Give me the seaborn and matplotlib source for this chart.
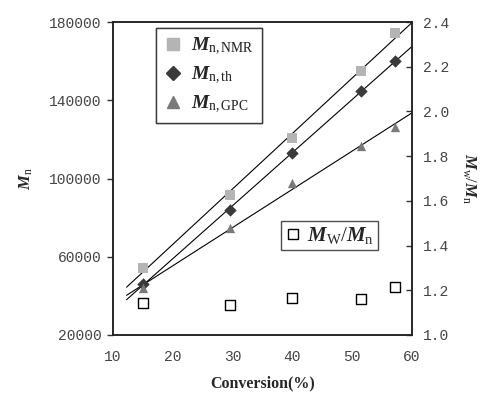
import numpy as np
import pandas as pd
import matplotlib
matplotlib.use("Agg")
import matplotlib.pyplot as plt
import seaborn as sns
from matplotlib.lines import Line2D

conversion = [15.0, 29.5, 40.0, 51.5, 57.2]
mn_nmr = [54200, 91500, 120800, 155000, 174200]
mn_th = [46000, 84000, 112800, 144700, 160200]
mn_gpc = [44000, 74500, 97500, 116600, 126400]
pdi = [1.142, 1.134, 1.167, 1.160, 1.213]

sns.set_style("white")
plt.rcParams.update({
    "font.family": ["Liberation Serif", "DejaVu Serif"],
    "mathtext.fontset": "custom",
    "mathtext.rm": "Liberation Serif",
    "mathtext.it": "Liberation Serif:italic",
    "mathtext.bf": "Liberation Serif:bold",
    "mathtext.bfit": "Liberation Serif:bold:italic",
})

df = pd.DataFrame({
    "conv": conversion,
    "nmr": mn_nmr,
    "th": mn_th,
    "gpc": mn_gpc,
    "pdi": pdi,
})

fig = plt.figure(figsize=(4.97, 4.0), dpi=100)
ax = fig.add_axes([0.227, 0.1625, 0.602, 0.7825])

series = [
    ("nmr", "s", "#b4b4b4", 55, r"$\boldsymbol{M}_{\mathrm{n,NMR}}$"),
    ("th", "D", "#3a3a3a", 40, r"$\boldsymbol{M}_{\mathrm{n,th}}$"),
    ("gpc", "^", "#7a7a7a", 45, r"$\boldsymbol{M}_{\mathrm{n,GPC}}$"),
]

# linear fits, drawn across the plot like the original trendlines
x_fit = np.linspace(12.3, 60, 50)
for col, mk, colour, size, label in series:
    slope, icpt = np.polyfit(df["conv"], df[col], 1)
    sns.lineplot(x=x_fit, y=slope * x_fit + icpt, ax=ax, color="black",
                 linewidth=0.8, zorder=2)
    sns.scatterplot(data=df, x="conv", y=col, ax=ax, marker=mk, color=colour,
                    s=size, edgecolor=colour, linewidth=0, zorder=3)

ax.set_xlim(10, 60)
ax.set_ylim(20000, 180000)
ax.set_xticks([10, 20, 30, 40, 50, 60])
ax.set_yticks([20000, 60000, 100000, 140000, 180000])
tick_font = {"family": "Liberation Mono", "size": 10.5}
ax.set_xticklabels([str(v) for v in ax.get_xticks().astype(int)], **tick_font)
ax.set_yticklabels([str(v) for v in ax.get_yticks().astype(int)], **tick_font)
ax.tick_params(axis="both", direction="out", length=4, width=1,
               colors="#333333", labelcolor="#444444", pad=4)
ax.tick_params(axis="x", pad=7)
for sp in ax.spines.values():
    sp.set_color("#222222")
    sp.set_linewidth(1.1)

ax.set_xlabel("Conversion(%)", fontsize=11.5, fontweight="bold", labelpad=8)
ax.set_ylabel(r"$\boldsymbol{M}_{\mathrm{n}}$", fontsize=12, labelpad=10)

handles = [Line2D([], [], linestyle="none", marker=mk, color=c,
                  markersize=8 if mk != "D" else 7, label=lab)
           for _, mk, c, _, lab in series]
leg1 = ax.legend(handles=handles, loc="upper left",
                 bbox_to_anchor=(0.144, 0.981), borderaxespad=0,
                 frameon=True, fancybox=False,
                 edgecolor="#222222", fontsize=14, handletextpad=0.4,
                 borderpad=0.4, labelspacing=0.4, handlelength=1.0)
leg1.get_frame().set_linewidth(1.0)
ax.add_artist(leg1)

ax2 = ax.twinx()
sns.scatterplot(data=df, x="conv", y="pdi", ax=ax2, marker="s",
                facecolor="white", edgecolor="black", linewidth=1.0, s=45,
                zorder=3)
ax2.set_ylim(1.0, 2.4)
ax2.set_yticks(np.arange(1.0, 2.41, 0.2))
ax2.set_yticklabels([f"{v:.1f}" for v in ax2.get_yticks()], **tick_font)
ax2.tick_params(axis="y", direction="in", length=4, width=1,
                colors="#333333", labelcolor="#444444", pad=8)
ax2.set_ylabel(r"$\boldsymbol{M}_{\mathrm{w}}/\boldsymbol{M}_{\mathrm{n}}$",
               fontsize=12, rotation=270, labelpad=20)
for sp in ax2.spines.values():
    sp.set_color("#222222")
    sp.set_linewidth(1.1)

h2 = [Line2D([], [], linestyle="none", marker="s", markerfacecolor="white",
             markeredgecolor="black", markersize=7,
             label=r"$\boldsymbol{M}_{\mathrm{W}}/\boldsymbol{M}_{\mathrm{n}}$")]
leg2 = ax2.legend(handles=h2, loc="upper left", bbox_to_anchor=(0.562, 0.364),
                  borderaxespad=0, frameon=True, fancybox=False,
                  edgecolor="#222222", fontsize=15, handletextpad=0.25,
                  borderpad=0.2, handlelength=0.8)
leg2.get_frame().set_linewidth(1.0)

fig.savefig("out.png", dpi=100)
